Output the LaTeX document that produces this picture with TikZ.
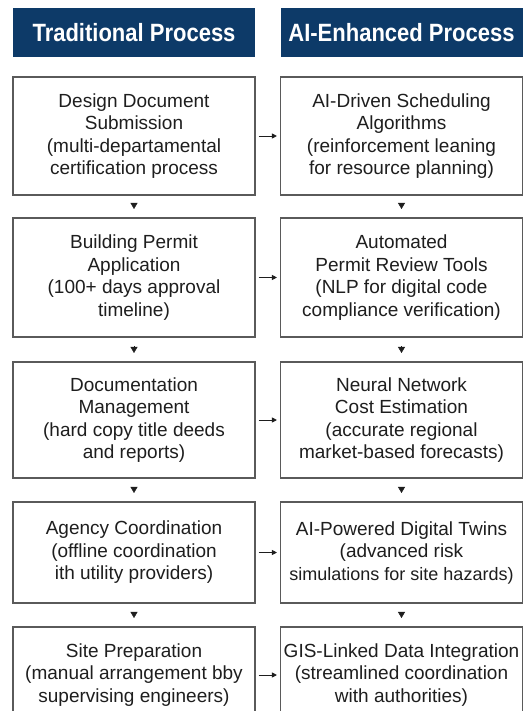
\documentclass[tikz,border=0pt]{standalone}
\usepackage{fontspec}
\setmainfont{Liberation Sans}
\newfontfamily\headfont[FakeStretch=0.88]{Liberation Sans}
\usetikzlibrary{arrows.meta}
\definecolor{navy}{HTML}{0D3A68}
\definecolor{boxline}{HTML}{5A5A5A}
\definecolor{ink}{HTML}{1E1E1E}
\tikzset{
  head/.style={fill=navy, text=white, minimum width=242pt, minimum height=49pt,
    inner sep=0pt, font=\headfont\fontsize{25}{29}\selectfont\bfseries},
  stage/.style={draw=boxline, line width=1.1pt, minimum width=242pt, inner sep=0pt,
    align=center, text=ink, font=\fontsize{19}{22.5}\selectfont},
  down/.style={-{Triangle[width=7pt,length=6pt]}, ink, shorten <=8.5pt, shorten >=8.5pt},
  across/.style={-{Triangle[width=5pt,length=5pt]}, ink, line width=0.9pt,
    shorten <=3pt, shorten >=3pt}
}
\begin{document}
\begin{tikzpicture}[x=1pt,y=-1pt]
  \useasboundingbox[fill=white] (0,0) rectangle (524,711);
  \begin{scope}
    \clip (0,0) rectangle (524,711);
    \node[head] (th) at (134,32.5) {Traditional Process};
    \node[head] (ah) at (401.5,32.5) {AI-Enhanced Process};

    \node[stage, minimum height=118pt] (t1) at (134,136)
      {Design Document\\Submission\\(multi-departamental\\certification process};
    \node[stage, minimum height=119pt] (t2) at (134,277.5)
      {Building Permit\\Application\\(100+ days approval\\timeline)};
    \node[stage, minimum height=116pt] (t3) at (134,420)
      {Documentation\\Management\\(hard copy title deeds\\and reports)};
    \node[stage, minimum height=101pt] (t4) at (134,552.5)
      {Agency Coordination\\(offline coordination\\ith utility providers)};
    \node[stage, minimum height=96pt] (t5) at (134,675)
      {Site Preparation\\(manual arrangement bby\\supervising engineers)};

    \node[stage, minimum height=118pt] (a1) at (401.5,136)
      {AI-Driven Scheduling\\Algorithms\\(reinforcement leaning\\for resource planning)};
    \node[stage, minimum height=119pt] (a2) at (401.5,277.5)
      {Automated\\Permit Review Tools\\(NLP for digital code\\compliance verification)};
    \node[stage, minimum height=116pt] (a3) at (401.5,420)
      {Neural Network\\Cost Estimation\\(accurate regional\\market-based forecasts)};
    \node[stage, minimum height=101pt] (a4) at (401.5,552.5)
      {AI-Powered Digital Twins\\(advanced risk\\{\fontsize{18}{22.5}\selectfont simulations for site hazards)}};
    \node[stage, minimum height=96pt] (a5) at (401.5,675)
      {GIS-Linked Data Integration\\(streamlined coordination\\with authorities)};
  \end{scope}

  \foreach \i/\j in {1/2,2/3,3/4,4/5} {
    \draw[down] (t\i) -- (t\j);
    \draw[down] (a\i) -- (a\j);
  }
  \foreach \i in {1,...,5}
    \draw[across] (t\i.east) -- (a\i.west |- t\i.east);
\end{tikzpicture}
\end{document}
